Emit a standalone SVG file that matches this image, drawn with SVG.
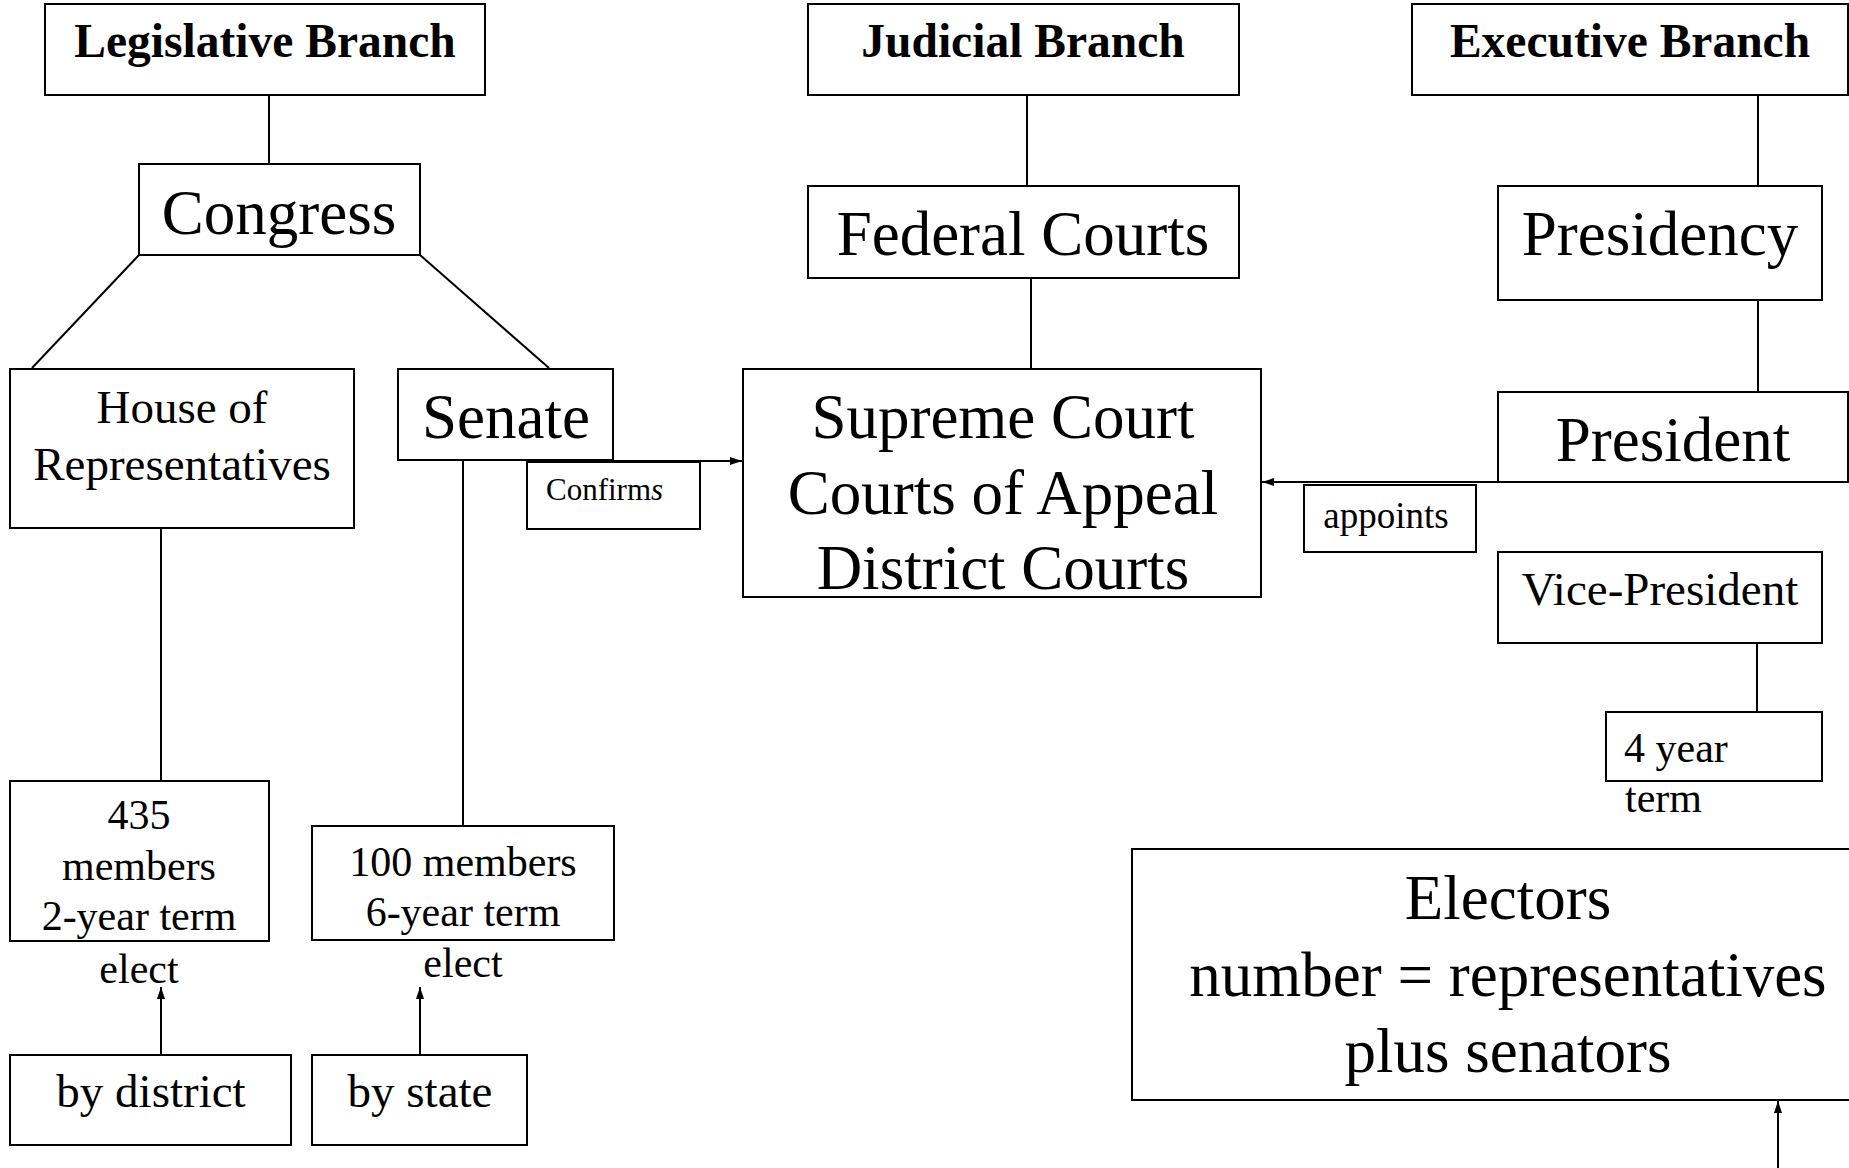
<svg xmlns="http://www.w3.org/2000/svg" width="1849" height="1168" viewBox="0 0 1849 1168">
<style>
rect{fill:#fff;stroke:#000;stroke-width:2}
.c line{stroke:#000;stroke-width:2}
text{font-family:"Liberation Serif","Times New Roman",serif;fill:#000;text-anchor:middle}
.b{font-weight:bold;font-size:47.5px}
.l{font-size:63px}
.m{font-size:47px}
.s{font-size:42px}
</style>
<defs>
<marker id="ah" markerUnits="userSpaceOnUse" markerWidth="13" markerHeight="9" refX="12" refY="4" orient="auto"><path d="M0,0 L12,4 L0,8 z" fill="#000"/></marker>
</defs>
<rect x="0" y="0" width="1849" height="1168" style="stroke:none"/>
<g class="c" id="connectors">
<line x1="269" y1="95" x2="269" y2="164"/>
<line x1="139" y1="255" x2="32" y2="368"/>
<line x1="420" y1="255" x2="549" y2="368"/>
<line x1="1027" y1="95" x2="1027" y2="186"/>
<line x1="1031" y1="278" x2="1031" y2="369"/>
<line x1="1758" y1="95" x2="1758" y2="186"/>
<line x1="1758" y1="300" x2="1758" y2="392"/>
<line x1="161" y1="528" x2="161" y2="781"/>
<line x1="463" y1="460" x2="463" y2="826"/>
<line x1="1757" y1="643" x2="1757" y2="712"/>
<line x1="613" y1="461" x2="742" y2="461" marker-end="url(#ah)"/>
<line x1="1498" y1="482" x2="1262" y2="482" marker-end="url(#ah)"/>
<line x1="161" y1="1055" x2="161" y2="987" marker-end="url(#ah)"/>
<line x1="420" y1="1055" x2="420" y2="987" marker-end="url(#ah)"/>
<line x1="1778" y1="1170" x2="1778" y2="1101" marker-end="url(#ah)"/>
</g>
<g id="legislative"><rect x="45" y="4" width="440" height="91"/><text class="b" x="265" y="57">Legislative Branch</text></g>
<g id="judicial"><rect x="808" y="4" width="431" height="91"/><text class="b" x="1023" y="57">Judicial Branch</text></g>
<g id="executive"><rect x="1412" y="4" width="436" height="91"/><text class="b" x="1630" y="57">Executive Branch</text></g>
<g id="congress"><rect x="139" y="164" width="281" height="91"/><text class="l" x="279" y="234">Congress</text></g>
<g id="federal"><rect x="808" y="186" width="431" height="92"/><text class="l" x="1023" y="255">Federal Courts</text></g>
<g id="presidency"><rect x="1498" y="186" width="324" height="114"/><text class="l" x="1660" y="255">Presidency</text></g>
<g id="house"><rect x="10" y="369" width="344" height="159"/><text class="m" x="182" y="423">House of</text><text class="m" x="182" y="480">Representatives</text></g>
<g id="senate"><rect x="398" y="369" width="215" height="91"/><text class="l" x="506" y="438">Senate</text></g>
<g id="confirms"><rect x="527" y="462" width="173" height="67"/><text x="546" y="500" style="font-size:31px;text-anchor:start">Confirm<tspan font-style="italic">s</tspan></text></g>
<g id="supreme"><rect x="743" y="369" width="518" height="228"/><text class="l" x="1003" y="438">Supreme Court</text><text class="l" x="1003" y="514">Courts of Appeal</text><text class="l" x="1003" y="589">District Courts</text></g>
<g id="president"><rect x="1498" y="392" width="350" height="90"/><text class="l" x="1673" y="461">President</text></g>
<g id="appoints"><rect x="1304" y="485" width="172" height="67"/><text x="1386" y="528" style="font-size:37px">appoints</text></g>
<g id="vicepresident"><rect x="1498" y="552" width="324" height="91"/><text class="m" x="1660" y="605">Vice-President</text></g>
<g id="fouryear"><rect x="1606" y="712" width="216" height="69"/><text class="s" x="1624" y="762" style="text-anchor:start">4 year</text><text class="s" x="1625" y="812" style="text-anchor:start">term</text></g>
<g id="house-members"><rect x="10" y="781" width="259" height="160"/><text class="s" x="139" y="829">435</text><text class="s" x="139" y="880">members</text><text class="s" x="139" y="930">2-year term</text></g>
<g id="senate-members"><rect x="312" y="826" width="302" height="114"/><text class="s" x="463" y="876">100 members</text><text class="s" x="463" y="926">6-year term</text></g>
<g id="elect-house"><text class="s" x="139" y="983">elect</text></g>
<g id="elect-senate"><text class="s" x="463" y="977">elect</text></g>
<g id="by-district"><rect x="10" y="1055" width="281" height="90"/><text class="m" x="151" y="1107">by district</text></g>
<g id="by-state"><rect x="312" y="1055" width="215" height="90"/><text class="m" x="420" y="1107">by state</text></g>
<g id="electors"><rect x="1132" y="849" width="730" height="251"/><text class="l" x="1508" y="919">Electors</text><text class="l" x="1508" y="996">number = representatives</text><text class="l" x="1508" y="1072">plus senators</text></g>
</svg>
